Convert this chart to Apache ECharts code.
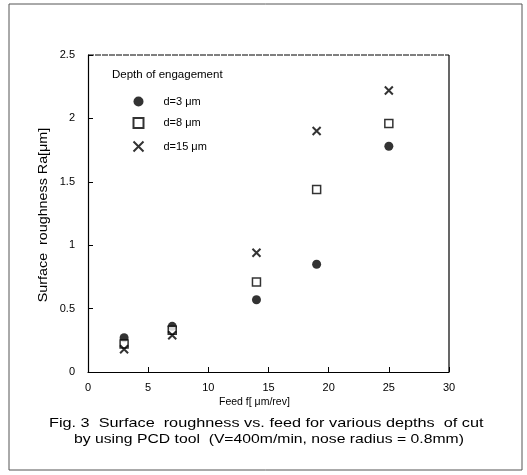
<!DOCTYPE html>
<html>
<head>
<meta charset="utf-8">
<script src="https://cdn.jsdelivr.net/npm/echarts@6/dist/echarts.min.js"></script>
<style>
html,body{margin:0;padding:0;background:#fff;}
#c{width:527px;height:475px;}
</style>
</head>
<body>
<div id="c"></div>
<script>
const feed = [3, 7, 14, 19, 25];
const d3 = [0.27, 0.36, 0.57, 0.85, 1.78];
const d8 = [0.22, 0.33, 0.71, 1.44, 1.96];
const d15 = [0.18, 0.29, 0.94, 1.90, 2.22];
const seriesNames = ['d=3 \u03bcm', 'd=8 \u03bcm', 'd=15 \u03bcm'];
const xTicks = [0, 5, 10, 15, 20, 25, 30];
const yTicks = [0, 0.5, 1, 1.5, 2, 2.5];

const FONT = 'Liberation Sans, Arial, sans-serif';
const crossPath = 'path://M0,0L10,10M10,0L0,10';

function pairs(ys) { return feed.map((x, i) => [x, ys[i]]); }

const chart = echarts.init(document.getElementById('c'));
chart.setOption({
  animation: false,
  backgroundColor: '#fff',
  grid: { left: 88, right: 78, top: 55, bottom: 103, show: false },
  xAxis: {
    type: 'value', min: xTicks[0], max: xTicks[xTicks.length - 1], interval: 5,
    axisLine: { show: true, onZero: false, lineStyle: { color: '#000', width: 1.2 } },
    axisTick: { show: true, inside: true, length: 5, lineStyle: { color: '#000' } },
    axisLabel: { color: '#000', fontSize: 11, fontFamily: FONT, margin: 10 },
    splitLine: { show: false }
  },
  yAxis: {
    type: 'value', min: yTicks[0], max: yTicks[yTicks.length - 1], interval: 0.5,
    axisLine: { show: true, onZero: false, lineStyle: { color: '#000', width: 1.2 } },
    axisTick: { show: true, inside: true, length: 5, lineStyle: { color: '#000' } },
    axisLabel: { color: '#000', fontSize: 11, fontFamily: FONT, margin: 13 },
    splitLine: { show: false }
  },
  legend: {
    orient: 'vertical', left: 126, top: 91, itemGap: 10,
    itemWidth: 10, itemHeight: 10,
    textStyle: { color: '#000', fontSize: 11, fontFamily: FONT, padding: [0, 0, 0, 15] },
    data: [
      { name: seriesNames[0], icon: 'circle' },
      { name: seriesNames[1], icon: 'rect' },
      { name: seriesNames[2], icon: crossPath }
    ]
  },
  graphic: [
    { type: 'rect', shape: { x: 9, y: 4, width: 513, height: 466 }, style: { fill: 'none', stroke: '#555', lineWidth: 1 }, silent: true },
    { type: 'line', shape: { x1: 88, y1: 55, x2: 449, y2: 55 }, style: { stroke: '#000', lineWidth: 1, lineDash: [6, 1] }, silent: true },
    { type: 'line', shape: { x1: 449, y1: 55, x2: 449, y2: 372 }, style: { stroke: '#000', lineWidth: 1.2 }, silent: true },
    { type: 'text', left: 112, top: 69, style: { text: 'Depth of engagement', fill: '#000', font: '11.5px ' + FONT } },
    { type: 'text', x: 43, y: 215, rotation: Math.PI / 2, scaleX: 1.1,
      style: { text: 'Surface  roughness Ra[\u03bcm]', fill: '#000', font: '13px ' + FONT, align: 'center', verticalAlign: 'middle' } },
    { type: 'text', left: 219, top: 397, style: { text: 'Feed f[ \u03bcm/rev]', fill: '#000', font: '10.5px ' + FONT } },
    { type: 'text', x: 49, y: 423, scaleX: 1.25,
      style: { text: 'Fig. 3  Surface  roughness vs. feed for various depths  of cut', fill: '#000', font: '13px ' + FONT, verticalAlign: 'middle' } },
    { type: 'text', x: 74, y: 439, scaleX: 1.21,
      style: { text: 'by using PCD tool  (V=400m/min, nose radius = 0.8mm)', fill: '#000', font: '13px ' + FONT, verticalAlign: 'middle' } }
  ],
  series: [
    { name: seriesNames[0], type: 'scatter', data: pairs(d3), symbol: 'circle', symbolSize: 9,
      itemStyle: { color: '#000' } },
    { name: seriesNames[1], type: 'scatter', data: pairs(d8), symbol: 'rect', symbolSize: 8,
      itemStyle: { color: '#fff', borderColor: '#000', borderWidth: 1.5 } },
    { name: seriesNames[2], type: 'scatter', data: pairs(d15), symbol: crossPath, symbolSize: 8,
      itemStyle: { color: 'none', borderColor: '#000', borderWidth: 2 } }
  ]
});
</script>
</body>
</html>
